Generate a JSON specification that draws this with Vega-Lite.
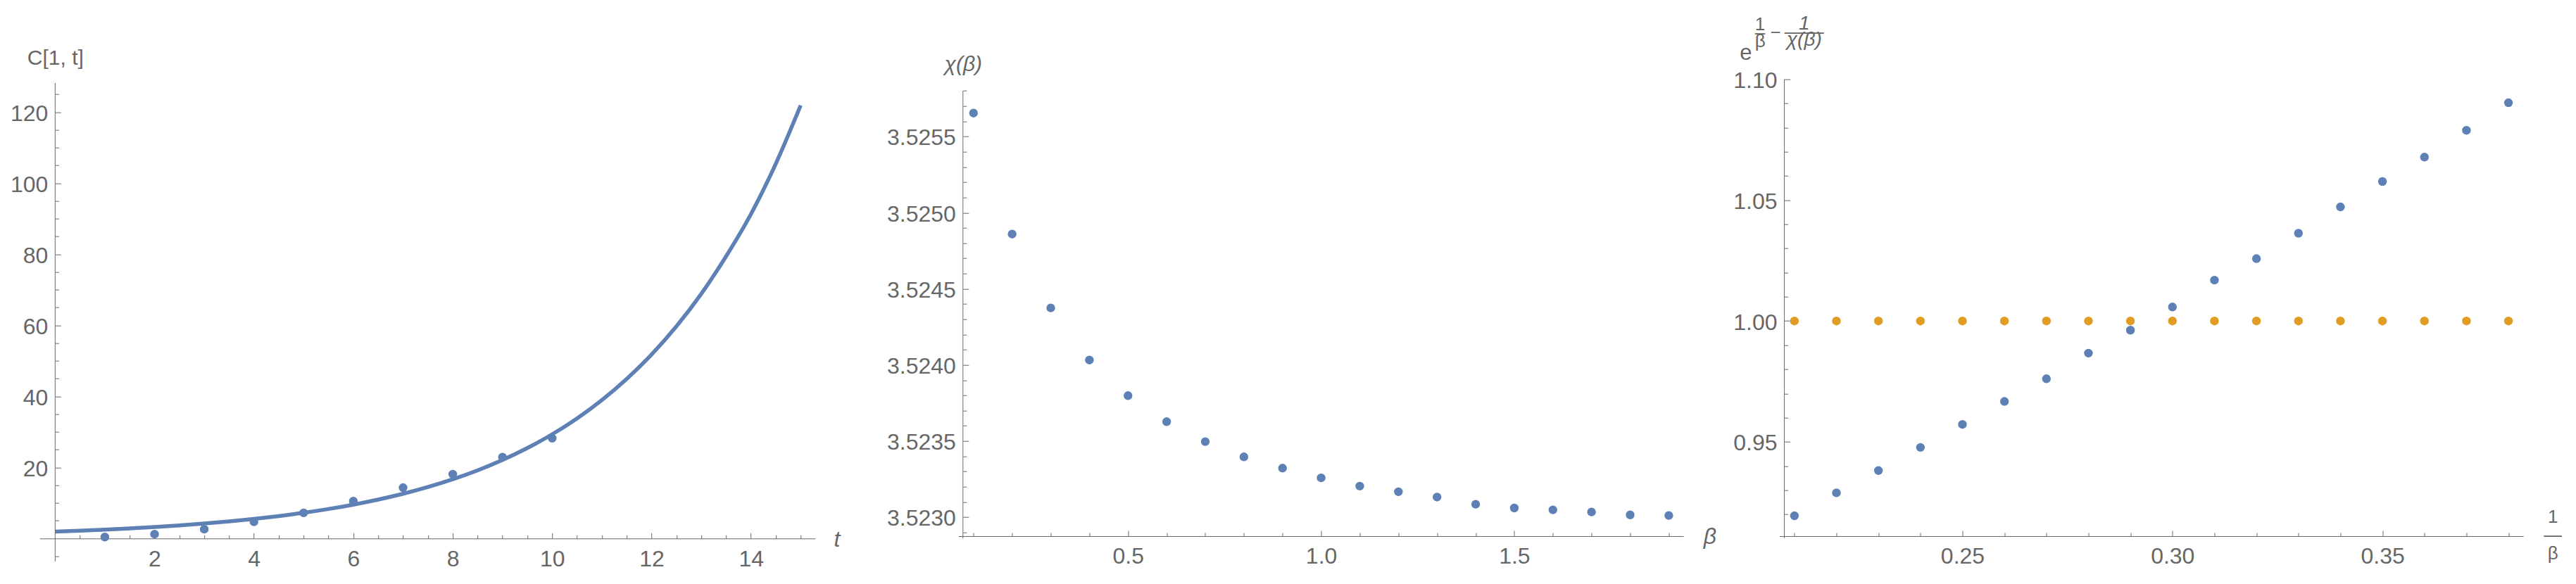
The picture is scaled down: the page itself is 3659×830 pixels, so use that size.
{
  "$schema": "https://vega.github.io/schema/vega-lite/v6.json",
  "padding": {"left": 14.2, "top": 19.7, "right": 0, "bottom": 0},
  "bounds": "flush",
  "spacing": 203.3,
  "config": {
    "font": "Liberation Sans",
    "view": {"stroke": null},
    "axis": {
      "grid": false,
      "labelFont": "Liberation Sans",
      "labelFontSize": 32,
      "labelColor": "#666666",
      "titleFont": "Liberation Sans",
      "titleColor": "#666666",
      "titleFontWeight": "normal",
      "domainColor": "#666666",
      "tickColor": "#666666",
      "domainWidth": 1,
      "tickWidth": 1,
      "labelOverlap": false,
      "labelFlush": false
    }
  },
  "datasets": {
    "p1pts": [
      {"t": 1, "c": 0.4}, {"t": 2, "c": 1.2}, {"t": 3, "c": 2.6}, {"t": 4, "c": 4.7}, {"t": 5, "c": 7.2},
      {"t": 6, "c": 10.5}, {"t": 7, "c": 14.3}, {"t": 8, "c": 18.1}, {"t": 9, "c": 22.9}, {"t": 10, "c": 28.2}
    ],
    "p1curve": [
      {"t": 0, "c": 1.95}, {"t": 0.5, "c": 2.2}, {"t": 1, "c": 2.5}, {"t": 1.5, "c": 2.84}, {"t": 2, "c": 3.23},
      {"t": 2.5, "c": 3.68}, {"t": 3, "c": 4.2}, {"t": 3.5, "c": 4.8}, {"t": 4, "c": 5.49}, {"t": 4.5, "c": 6.3},
      {"t": 5, "c": 7.22}, {"t": 5.5, "c": 8.29}, {"t": 6, "c": 9.52}, {"t": 6.5, "c": 10.94}, {"t": 7, "c": 12.58},
      {"t": 7.5, "c": 14.47}, {"t": 8, "c": 16.65}, {"t": 8.5, "c": 19.17}, {"t": 9, "c": 22.08}, {"t": 9.5, "c": 25.44},
      {"t": 10, "c": 29.31}, {"t": 10.5, "c": 33.78}, {"t": 11, "c": 38.94}, {"t": 11.5, "c": 44.9}, {"t": 12, "c": 51.77},
      {"t": 12.5, "c": 59.71}, {"t": 13, "c": 68.86}, {"t": 13.5, "c": 79.43}, {"t": 14, "c": 91.3}, {"t": 14.5, "c": 105.5},
      {"t": 15, "c": 121.9}
    ],
    "p2pts": [
      {"beta": 0.1, "chi": 3.525654}, {"beta": 0.2, "chi": 3.524859}, {"beta": 0.3, "chi": 3.524374},
      {"beta": 0.4, "chi": 3.524032}, {"beta": 0.5, "chi": 3.523798}, {"beta": 0.6, "chi": 3.523627},
      {"beta": 0.7, "chi": 3.523496}, {"beta": 0.8, "chi": 3.523396}, {"beta": 0.9, "chi": 3.523322},
      {"beta": 1.0, "chi": 3.523258}, {"beta": 1.1, "chi": 3.523204}, {"beta": 1.2, "chi": 3.523167},
      {"beta": 1.3, "chi": 3.523132}, {"beta": 1.4, "chi": 3.523085}, {"beta": 1.5, "chi": 3.52306},
      {"beta": 1.6, "chi": 3.523048}, {"beta": 1.7, "chi": 3.523034}, {"beta": 1.8, "chi": 3.523015},
      {"beta": 1.9, "chi": 3.523011}
    ],
    "p3pts": [
      {"inv": 0.21, "f": 0.9194, "g": 1.0}, {"inv": 0.22, "f": 0.9289, "g": 1.0}, {"inv": 0.23, "f": 0.9381, "g": 1.0},
      {"inv": 0.24, "f": 0.9477, "g": 1.0}, {"inv": 0.25, "f": 0.9572, "g": 1.0}, {"inv": 0.26, "f": 0.9667, "g": 1.0},
      {"inv": 0.27, "f": 0.9761, "g": 1.0}, {"inv": 0.28, "f": 0.9867, "g": 1.0}, {"inv": 0.29, "f": 0.9962, "g": 1.0},
      {"inv": 0.3, "f": 1.0058, "g": 1.0}, {"inv": 0.31, "f": 1.0169, "g": 1.0}, {"inv": 0.32, "f": 1.0258, "g": 1.0},
      {"inv": 0.33, "f": 1.0363, "g": 1.0}, {"inv": 0.34, "f": 1.0472, "g": 1.0}, {"inv": 0.35, "f": 1.0577, "g": 1.0},
      {"inv": 0.36, "f": 1.0678, "g": 1.0}, {"inv": 0.37, "f": 1.0789, "g": 1.0}, {"inv": 0.38, "f": 1.0903, "g": 1.0}
    ]
  },
  "hconcat": [
    {
      "width": 1101.7,
      "height": 685.3,
      "resolve": {"axis": {"x": "independent", "y": "independent"}},
      "layer": [
        {
          "data": {"name": "p1pts"},
          "mark": {"type": "circle", "size": 154, "opacity": 1, "color": "#5E81B5"},
          "encoding": {
            "x": {
              "field": "t", "type": "quantitative",
              "scale": {"domain": [-0.313, 15.292], "nice": false, "zero": false},
              "axis": {
                "orient": "bottom", "offset": -32.7, "domain": true,
                "values": [0.5,1,1.5,2,2.5,3,3.5,4,4.5,5,5.5,6,6.5,7,7.5,8,8.5,9,9.5,10,10.5,11,11.5,12,12.5,13,13.5,14,14.5,15],
                "format": ".0f",
                "labelExpr": "datum.value % 2 === 0 ? datum.label : ''",
                "tickSize": {"condition": {"test": "datum.value % 2 === 0", "value": -8}, "value": -5},
                "labelPadding": 22,
                "title": "t", "titleFontStyle": "italic", "titleFontSize": 32,
                "titleX": 1132.3, "titleY": 11.4, "titleAlign": "center", "titleBaseline": "alphabetic"
              }
            },
            "y": {
              "field": "c", "type": "quantitative",
              "scale": {"domain": [-6.48, 129.23], "nice": false, "zero": false},
              "axis": {
                "orient": "left", "offset": -22.1, "domain": false,
                "values": [-5,5,10,15,20,25,30,35,40,45,50,55,60,65,70,75,80,85,90,95,100,105,110,115,120,125],
                "format": ".0f",
                "labelExpr": "datum.value % 20 === 0 ? datum.label : ''",
                "tickSize": {"condition": {"test": "datum.value % 20 === 0", "value": -8}, "value": -5},
                "labelPadding": 18.5, "labelOffset": 2,
                "title": "C[1, t]", "titleAngle": 0, "titleFontSize": 30,
                "titleX": 0, "titleY": -20.7, "titleAlign": "center", "titleBaseline": "alphabetic"
              }
            }
          }
        },
        {
          "data": {"name": "p1curve"},
          "mark": {"type": "line", "color": "#5E81B5", "strokeWidth": 5.5, "interpolate": "monotone"},
          "encoding": {
            "x": {"field": "t", "type": "quantitative", "scale": {"domain": [-0.313, 15.292], "nice": false, "zero": false}, "axis": null},
            "y": {"field": "c", "type": "quantitative", "scale": {"domain": [-6.48, 129.23], "nice": false, "zero": false}, "axis": null}
          }
        },
        {
          "data": {"values": [{}]},
          "mark": {"type": "rule", "color": "#666666", "strokeWidth": 1},
          "encoding": {
            "x": {"datum": 0, "type": "quantitative", "axis": null},
            "y": {"datum": -6.48, "type": "quantitative", "axis": null},
            "y2": {"datum": 128.2}
          }
        }
      ]
    },
    {
      "bounds": "flush",
      "spacing": 136,
      "hconcat": [
        {
          "width": 1029.7,
          "height": 652.3,
          "resolve": {"axis": {"x": "independent", "y": "independent"}},
          "layer": [
            {
              "data": {"name": "p2pts"},
              "mark": {"type": "circle", "size": 154, "opacity": 1, "color": "#5E81B5"},
              "encoding": {
                "x": {
                  "field": "beta", "type": "quantitative",
                  "scale": {"domain": [0.0612, 1.9379], "nice": false, "zero": false},
                  "axis": {
                    "orient": "bottom", "offset": -3, "domain": true,
                    "values": [0.1,0.2,0.3,0.4,0.5,0.6,0.7,0.8,0.9,1.0,1.1,1.2,1.3,1.4,1.5,1.6,1.7,1.8,1.9],
                    "format": ".1f",
                    "labelExpr": "abs(datum.value*2 - round(datum.value*2)) < 1e-6 ? datum.label : ''",
                    "tickSize": {"condition": {"test": "abs(datum.value*2 - round(datum.value*2)) < 1e-6", "value": -8}, "value": -5},
                    "labelPadding": 22,
                    "title": "β", "titleFontStyle": "italic", "titleFontSize": 32,
                    "titleX": 1067, "titleY": 11, "titleAlign": "center", "titleBaseline": "alphabetic"
                  }
                },
                "y": {
                  "field": "chi", "type": "quantitative",
                  "scale": {"domain": [3.5228614, 3.5258757], "nice": false, "zero": false},
                  "axis": {
                    "orient": "left", "offset": -6.3, "domain": false,
                    "values": [3.5229,3.523,3.5231,3.5232,3.5233,3.5234,3.5235,3.5236,3.5237,3.5238,3.5239,3.524,3.5241,3.5242,3.5243,3.5244,3.5245,3.5246,3.5247,3.5248,3.5249,3.525,3.5251,3.5252,3.5253,3.5254,3.5255,3.5256,3.5257,3.5258],
                    "format": ".4f",
                    "labelExpr": "abs(datum.value*2000 - round(datum.value*2000)) < 1e-6 ? datum.label : ''",
                    "tickSize": {"condition": {"test": "abs(datum.value*2000 - round(datum.value*2000)) < 1e-6", "value": -8}, "value": -5},
                    "labelPadding": 18.5, "labelOffset": 2,
                    "title": "χ(β)", "titleFontStyle": "italic", "titleAngle": 0, "titleFontSize": 30,
                    "titleX": 0, "titleY": -11.7, "titleAlign": "center", "titleBaseline": "alphabetic"
                  }
                }
              }
            },
            {
              "data": {"values": [{}]},
              "mark": {"type": "rule", "color": "#666666", "strokeWidth": 1},
              "encoding": {
                "x": {"datum": 0.0727, "type": "quantitative", "axis": null},
                "y": {"datum": 3.52286, "type": "quantitative", "axis": null},
                "y2": {"datum": 3.5258}
              }
            }
          ]
        },
        {
          "width": 1056.6,
          "height": 652.3,
          "resolve": {"axis": {"x": "independent", "y": "independent"}},
          "layer": [
            {
              "data": {"name": "p3pts"},
              "mark": {"type": "circle", "size": 154, "opacity": 1, "color": "#5E81B5"},
              "encoding": {
                "x": {
                  "field": "inv", "type": "quantitative",
                  "scale": {"domain": [0.20642, 0.38352], "nice": false, "zero": false},
                  "axis": {
                    "orient": "bottom", "offset": -3, "domain": true,
                    "values": [0.21,0.22,0.23,0.24,0.25,0.26,0.27,0.28,0.29,0.3,0.31,0.32,0.33,0.34,0.35,0.36,0.37,0.38],
                    "format": ".2f",
                    "labelExpr": "abs(datum.value*20 - round(datum.value*20)) < 1e-6 ? datum.label : ''",
                    "tickSize": {"condition": {"test": "abs(datum.value*20 - round(datum.value*20)) < 1e-6", "value": -8}, "value": -5},
                    "labelPadding": 22,
                    "title": ["1", "—", "β"], "titleFontSize": 26, "titleLineHeight": 26,
                    "titleX": 1098.3, "titleY": -19, "titleAlign": "center", "titleBaseline": "alphabetic"
                  }
                },
                "y": {
                  "field": "f", "type": "quantitative",
                  "scale": {"domain": [0.9101, 1.1], "nice": false, "zero": false},
                  "axis": {
                    "orient": "left", "offset": -7, "domain": false,
                    "values": [0.92,0.93,0.94,0.95,0.96,0.97,0.98,0.99,1.0,1.01,1.02,1.03,1.04,1.05,1.06,1.07,1.08,1.09,1.1],
                    "format": ".2f",
                    "labelExpr": "abs(datum.value*20 - round(datum.value*20)) < 1e-6 ? datum.label : ''",
                    "tickSize": {"condition": {"test": "abs(datum.value*20 - round(datum.value*20)) < 1e-6", "value": -8}, "value": -5},
                    "labelPadding": 18.5, "labelOffset": 2,
                    "title": ["1", "——", " ", "χ(β)"], "titleFontStyle": "italic", "titleAngle": 0, "titleFontSize": 28, "titleLineHeight": 11.5,
                    "titleX": 27.8, "titleY": -71, "titleAlign": "center", "titleBaseline": "alphabetic"
                  }
                }
              }
            },
            {
              "data": {"name": "p3pts"},
              "mark": {"type": "circle", "size": 154, "opacity": 1, "color": "#E19C24"},
              "encoding": {
                "x": {
                  "field": "inv", "type": "quantitative",
                  "scale": {"domain": [0.20642, 0.38352], "nice": false, "zero": false},
                  "axis": {
                    "orient": "top", "offset": 0, "domain": false, "ticks": false, "labels": false,
                    "title": "e", "titleFontSize": 31,
                    "titleX": -48, "titleY": -28.2, "titleAlign": "center", "titleBaseline": "alphabetic"
                  }
                },
                "y": {
                  "field": "g", "type": "quantitative",
                  "scale": {"domain": [0.9101, 1.1], "nice": false, "zero": false},
                  "axis": null
                }
              }
            },
            {
              "data": {"values": [{}]},
              "mark": {"type": "rule", "color": "#666666", "strokeWidth": 1},
              "encoding": {
                "x": {
                  "datum": 0.20759, "type": "quantitative",
                  "axis": {
                    "orient": "top", "offset": 0, "domain": false, "ticks": false, "labels": false,
                    "title": ["1", "– −", "β"], "titleFontSize": 26, "titleLineHeight": 12,
                    "titleX": -35.2, "titleY": -69.7, "titleAlign": "left", "titleBaseline": "alphabetic"
                  }
                },
                "y": {"datum": 0.9101, "type": "quantitative", "axis": null},
                "y2": {"datum": 1.1}
              }
            }
          ]
        }
      ]
    }
  ]
}
